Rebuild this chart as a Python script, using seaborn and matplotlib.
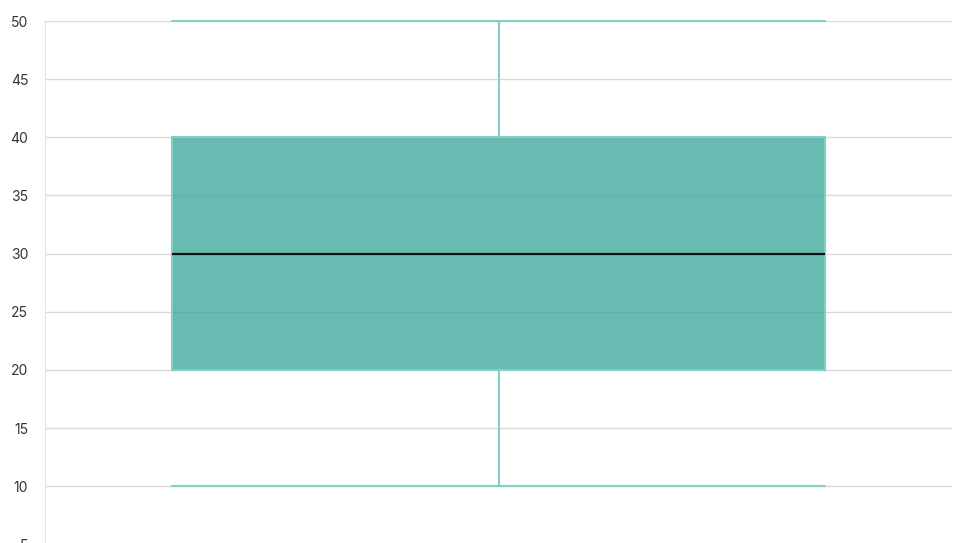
import matplotlib
matplotlib.use("Agg")
import matplotlib.pyplot as plt
import pandas as pd
import seaborn as sns

# five-number summary
values = [10, 20, 30, 40, 50]
yticks = [5, 10, 15, 20, 25, 30, 35, 40, 45, 50]

df = pd.DataFrame({"value": values})

sns.set_style("white")
plt.rcParams["font.family"] = ["Inter", "DejaVu Sans"]

fig = plt.figure(figsize=(9.66, 5.43), dpi=100)
ax = fig.add_axes([45 / 966, -0.0024, 907 / 966, 0.9637])

edge = "#80d0c6"
sns.boxplot(y="value", data=df, ax=ax, width=0.72, whis=1.5,
            color="#3fa89b", linecolor=edge, linewidth=1.5,
            boxprops=dict(facecolor=(0.247, 0.659, 0.608, 0.78), edgecolor=edge, linewidth=1.5),
            medianprops=dict(color="#111111", linewidth=1.6),
            whiskerprops=dict(color=edge, linewidth=1.5),
            capprops=dict(color=edge, linewidth=1.5),
            capwidths=0.72)

# keep the whisker caps drawn in full at the axis edge
for line in ax.lines:
    line.set_clip_on(False)
    line.set_zorder(3)

ax.set_xlim(-0.5, 0.5)
ax.set_ylim(5, 50)
ax.set_yticks(yticks)
ax.set_xticks([])
ax.set_xlabel("")
ax.set_ylabel("")
ax.grid(axis="y", color="#d9d9d9", linewidth=1)
ax.set_axisbelow(True)
for s in ["top", "right", "bottom"]:
    ax.spines[s].set_visible(False)
ax.spines["left"].set_color("#e2e2e2")
ax.tick_params(axis="y", length=9, width=1, color="#d9d9d9", labelsize=10, labelcolor="#333333", pad=3)

fig.savefig("out.png", dpi=100)
